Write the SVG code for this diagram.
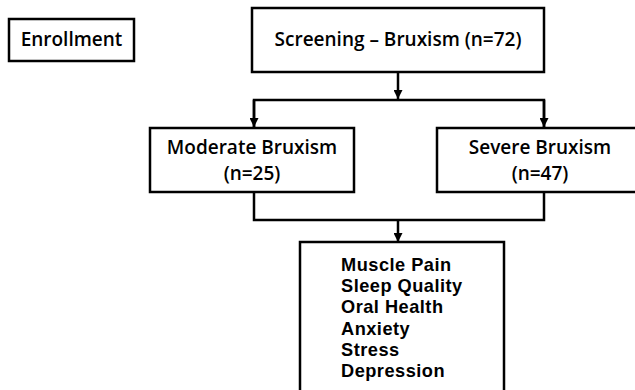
<svg xmlns="http://www.w3.org/2000/svg" width="635" height="390" viewBox="0 0 635 390">
<defs>
<style>
.box{fill:#fff;stroke:#000;stroke-width:2.5}
.lbl{font-family:"Open Sans","Liberation Sans",sans-serif;font-size:19px;font-weight:600;fill:#000;text-anchor:middle}
.lst{font-family:"Liberation Sans",Arial,sans-serif;font-size:18.2px;font-weight:bold;letter-spacing:0.5px;fill:#000}
.ln{fill:none;stroke:#000;stroke-width:2.5}
</style>
<marker id="ah" viewBox="0 0 10 10" refX="10" refY="5" markerWidth="3.6" markerHeight="3.6" markerUnits="strokeWidth" orient="auto">
<path d="M0,0 L10,5 L0,10 z" fill="#000"/>
</marker>
</defs>
<rect width="635" height="390" fill="#fff"/>
<g id="connectors">
<path class="ln" d="M398,72 V99" marker-end="url(#ah)"/>
<path class="ln" d="M254,127 V100 H544 V127"/>
<path class="ln" d="M254,100 V127" marker-end="url(#ah)"/>
<path class="ln" d="M544,100 V127" marker-end="url(#ah)"/>
<path class="ln" d="M254,192 V220 H544 V192"/>
<path class="ln" d="M398,220 V242" marker-end="url(#ah)"/>
</g>
<g id="enrollment">
<rect class="box" x="9" y="19" width="125" height="42"/>
<text class="lbl" x="71.5" y="46">Enrollment</text>
</g>
<g id="screening">
<rect class="box" x="252" y="8" width="292" height="64"/>
<text class="lbl" x="398" y="46">Screening – Bruxism (n=72)</text>
</g>
<g id="moderate">
<rect class="box" x="150" y="128" width="204" height="64"/>
<text class="lbl" x="252" y="154">Moderate Bruxism</text>
<text class="lbl" x="252" y="180">(n=25)</text>
</g>
<g id="severe">
<rect class="box" x="437" y="128" width="208" height="64"/>
<text class="lbl" x="540" y="154">Severe Bruxism</text>
<text class="lbl" x="540" y="180">(n=47)</text>
</g>
<g id="outcomes">
<rect class="box" x="300" y="242" width="204" height="160"/>
<text class="lst" x="341" y="271">Muscle Pain</text>
<text class="lst" x="341" y="292.2">Sleep Quality</text>
<text class="lst" x="341" y="313.4">Oral Health</text>
<text class="lst" x="341" y="334.6">Anxiety</text>
<text class="lst" x="341" y="355.8">Stress</text>
<text class="lst" x="341" y="377">Depression</text>
</g>
</svg>
